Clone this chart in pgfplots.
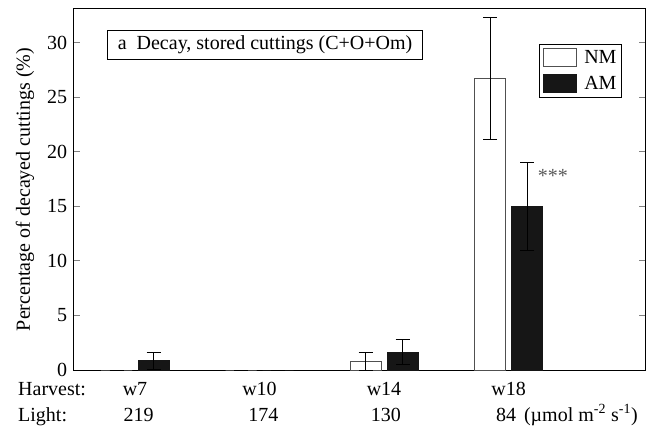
\documentclass[border=0pt]{standalone}
\usepackage{pgfplots}
\pgfplotsset{compat=1.18}
\usepackage{fontspec}
\setmainfont{Liberation Serif}
\definecolor{nmedge}{HTML}{505050}
\definecolor{amfill}{HTML}{161616}
\begin{document}
\fontsize{20}{24}\selectfont
\begin{tikzpicture}[font=\fontsize{20}{24}\selectfont]
\useasboundingbox (-74pt,-56pt) rectangle (574pt,370pt);
\begin{axis}[
  at={(0pt,0pt)}, anchor=south west,
  scale only axis, width=571pt, height=361pt,
  xmin=-0.49, xmax=4.096, ymin=0, ymax=33.1,
  ybar=6pt, bar width=31pt,
  axis line style={line width=1pt},
  xtick={0,1,2,3}, xticklabels={w7,w10,w14,w18},
  xtick style={draw=none},
  xticklabel style={anchor=base, yshift=-25pt},
  ytick={0,5,10,15,20,25,30},
  ytick pos=both, yticklabel pos=left,
  tick align=inside, major tick length=6pt,
  ytick style={line width=1pt},
  /pgf/number format/assume math mode=true,
  ylabel={Percentage of decayed cuttings (\%)},
  ylabel style={at={(axis description cs:-0.0858,0.5)}, anchor=center},
  clip=false,
  legend style={at={(0.9597,0.903)}, anchor=north east, draw=black, line width=1pt,
    inner xsep=3pt, inner ysep=3pt, row sep=5pt, cells={anchor=west},
    font=\fontsize{20}{24}\selectfont},
  legend image code/.code={\draw[#1,line width=1pt] (0pt,-7.5pt) rectangle (33pt,10.5pt); \path[draw=none,fill=none] (0pt,0pt) -- (39pt,0pt);},
  error bars/y dir=both, error bars/y explicit,
  error bars/error bar style={black, line width=1pt},
  error bars/error mark options={rotate=90, mark size=7pt, line width=1pt, black},
]
\addplot[draw=nmedge, fill=white, line width=1pt] coordinates {
  (0,0) +- (0,0)
  (1,0) +- (0,0)
  (2,0.8) +- (0,0.85)
  (3,26.7) +- (0,5.6)
};
\addlegendentry{NM}
\addplot[draw=amfill, fill=amfill, line width=1pt] coordinates {
  (0,0.85) +- (0,0.8)
  (1,0) +- (0,0)
  (2,1.65) +- (0,1.15)
  (3,15.0) +- (0,4.0)
};
\addlegendentry{AM}
\node[draw, line width=1pt, anchor=north west, inner xsep=10pt, inner ysep=0pt, minimum height=29pt]
  at (axis description cs:0.0583,0.942) {a\hspace{0.5em}Decay, stored cuttings (C+O+Om)};
\node[anchor=west, text=gray!70!black, inner sep=0pt] at (axis cs:3.235,17.8) {***};
\node[anchor=base west, yshift=-25pt, inner sep=0pt] at (rel axis cs:-0.0981,0) {Harvest:};
\node[anchor=base west, yshift=-51.5pt, inner sep=0pt] at (rel axis cs:-0.0981,0) {Light:};
\node[anchor=base, yshift=-51.5pt, inner sep=0pt] at (axis cs:0.03,0) {219};
\node[anchor=base, yshift=-51.5pt, inner sep=0pt] at (axis cs:1.03,0) {174};
\node[anchor=base, yshift=-51.5pt, inner sep=0pt] at (axis cs:2.015,0) {130};
\node[anchor=base west, yshift=-51.5pt, inner sep=0pt] at (axis cs:2.898,0) {84\hspace{0.4em}(µmol m\textsuperscript{-2} s\textsuperscript{-1})};
\end{axis}
\end{tikzpicture}
\end{document}
